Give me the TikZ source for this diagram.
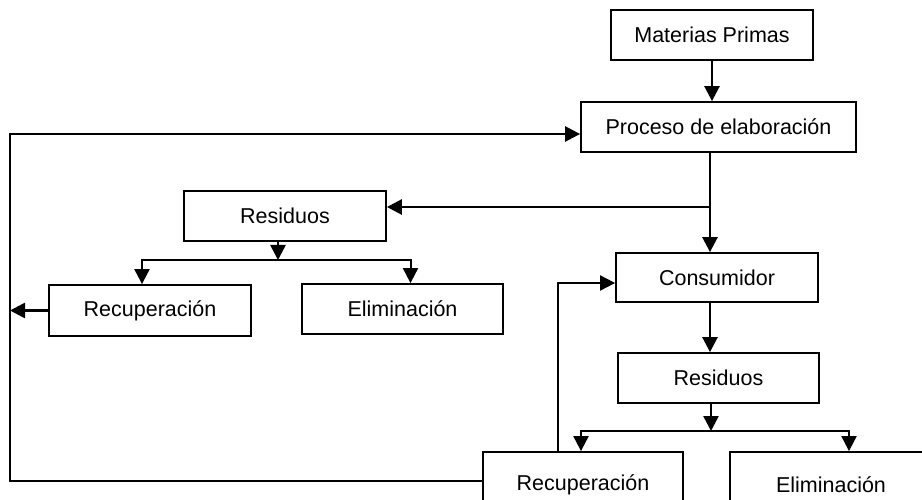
\documentclass[tikz,border=0pt]{standalone}
\usepackage{fontspec}
\setmainfont{Liberation Sans}
\usepackage{tikz}
\usetikzlibrary{positioning,calc,arrows.meta}

\begin{document}
\begin{tikzpicture}[x=1pt, y=-1pt,
                % Estilo de las cajas
                caja/.style={rectangle, draw=black, line width=1.8pt, fill=white, minimum height=50pt, inner sep=0pt, font=\fontsize{21.5}{25}\selectfont},
                % Estilo de las flechas
                flecha/.style={-{Triangle[length=15pt, width=15pt]}, draw=black, line width=2.6pt},
                rama/.style={draw=black, line width=2pt}
            ]
                \useasboundingbox (0,0) rectangle (922,500);
                \clip (0,0) rectangle (922,500);

                % --- CAJAS ---
                % Produccion
                \node[caja, minimum width=202pt] (mp) at (712, 35) {Materias Primas};
                \node[caja, minimum width=275pt] (proc) at (718.5, 127) {Proceso de elaboración};

                % Residuos del proceso
                \node[caja, minimum width=202pt] (resA) at (285, 216) {Residuos};
                \node[caja, minimum width=202pt, minimum height=51pt] (recA) at (150, 310.5) {Recuperación};
                \node[caja, minimum width=201pt] (elimA) at (402.5, 309) {Eliminación};

                % Consumo
                \node[caja, minimum width=202pt, minimum height=49pt] (cons) at (717, 277.5) {Consumidor};
                \node[caja, minimum width=201pt] (resB) at (718.5, 378) {Residuos};
                \node[caja, minimum width=200pt, minimum height=66pt] (recB) at (583, 485) {Recuperación};
                \node[caja, minimum width=202pt, minimum height=66pt] (elimB) at (831, 485) {Eliminación};

                % --- PUNTOS DE RAMIFICACION ---
                \coordinate (t1) at (710, 207);
                \coordinate (ramaA) at (278, 260);
                \coordinate (ramaB) at (711, 431);
                \coordinate (esqSup) at (10, 134);
                \coordinate (esqInf) at (10, 481);
                \coordinate (vuelta) at (558, 283);

                % --- FLECHAS ---
                \draw[flecha] (mp) -- (mp |- proc.north);
                \draw[flecha] (proc.south -| t1) -- (cons.north -| t1);
                \draw[flecha] (t1) -- (resA.east |- t1);
                \draw[flecha] (cons.south -| t1) -- (resB.north -| t1);

                % Reparto de residuos (proceso)
                \draw[flecha] (resA.south -| ramaA) -- (ramaA);
                \draw[rama, flecha, line width=2pt] (ramaA) -| ([xshift=-8pt]recA.north);
                \draw[rama, flecha, line width=2pt] (ramaA) -| ([xshift=8pt]elimA.north);

                % Reparto de residuos (consumo)
                \draw[flecha] (resB.south -| ramaB) -- (ramaB);
                \draw[rama, flecha, line width=2pt] (ramaB) -| ([xshift=-2pt]recB.north);
                \draw[rama, flecha, line width=2pt] (ramaB) -| ([xshift=18pt]elimB.north);

                % Recuperacion: vuelta al proceso y al consumidor
                \draw[flecha] (recA.west) -- (recA.west -| esqSup);
                \draw[flecha] (recB.west |- esqInf) -- (esqInf) -- (esqSup) -- (proc.west |- esqSup);
                \draw[flecha, line width=2pt] (recB.north -| vuelta) |- (cons.west |- vuelta);

            \end{tikzpicture}
\end{document}
